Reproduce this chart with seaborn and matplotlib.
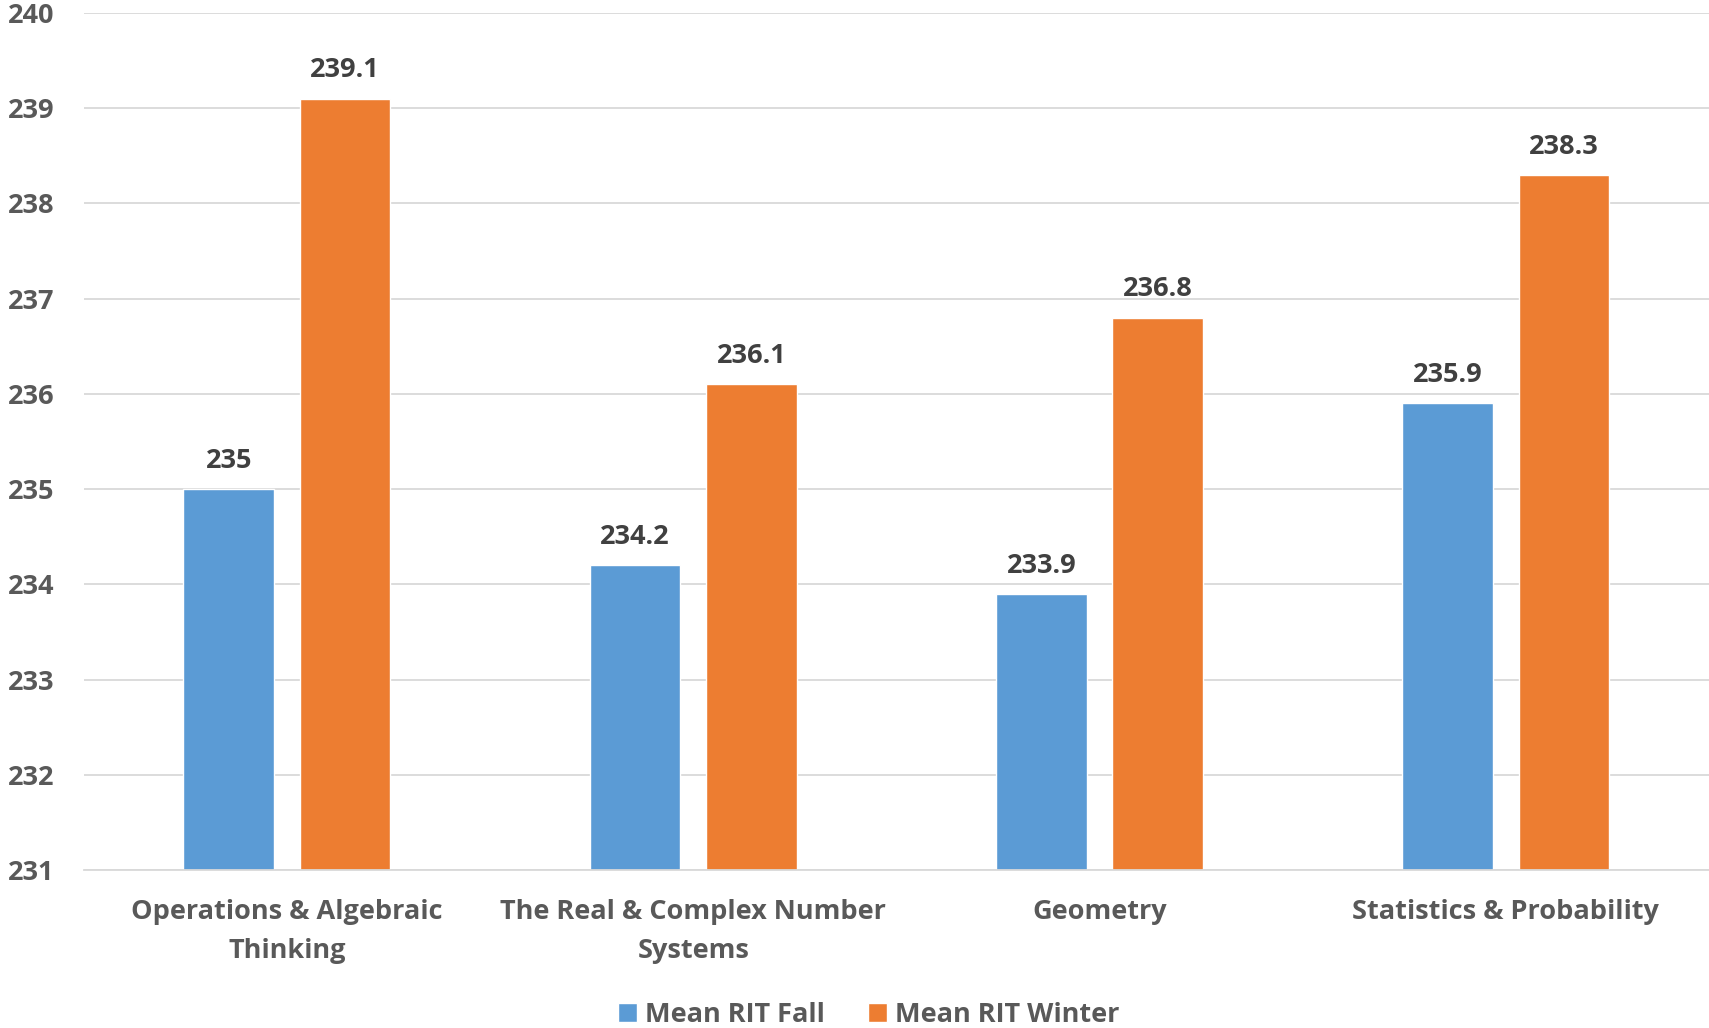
import pandas as pd
import matplotlib
matplotlib.use("Agg")
import matplotlib.pyplot as plt
import seaborn as sns

# DATA
categories = ["Operations & Algebraic\nThinking", "The Real & Complex Number\nSystems",
              "Geometry", "Statistics & Probability"]
fall = [235.0, 234.2, 233.9, 235.9]
winter = [239.1, 236.1, 236.8, 238.3]
fall_labels = ["235", "234.2", "233.9", "235.9"]
winter_labels = ["239.1", "236.1", "236.8", "238.3"]
series = ["Mean RIT Fall", "Mean RIT Winter"]

df = pd.DataFrame({
    "category": categories * 2,
    "value": fall + winter,
    "series": [series[0]] * 4 + [series[1]] * 4,
})

# STYLE
sns.set_style("white")
plt.rcParams["font.family"] = ["Open Sans", "DejaVu Sans"]
plt.rcParams["font.weight"] = "bold"
colors = ["#5B9BD5", "#ED7D31"]
fs = 19.5

fig = plt.figure(figsize=(17.09, 10.28), dpi=100)
ax = fig.add_axes([0.049, 0.1537, 0.951, 0.8336])

sns.barplot(data=df, x="category", y="value", hue="series", palette=colors,
            width=0.572, gap=0.22, ax=ax, legend=True, saturation=1)

ax.set_ylim(231, 240)
ax.set_yticks(range(231, 241))
ax.set_xlim(-0.5, 3.5)
ax.yaxis.grid(True, color="#D9D9D9", linewidth=1.3)
ax.set_axisbelow(True)
for s in ["top", "right", "left"]:
    ax.spines[s].set_visible(False)
ax.spines["bottom"].set_color("#D9D9D9")
ax.spines["bottom"].set_linewidth(1.3)
ax.set_xlabel("")
ax.set_ylabel("")
ax.tick_params(axis="y", length=0, pad=21, labelsize=fs, labelcolor="#595959")
ax.tick_params(axis="x", length=0, pad=21, labelsize=fs, labelcolor="#595959")
for t in ax.get_xticklabels():
    t.set_linespacing(1.62)
    t.set_fontweight("bold")
for t in ax.get_yticklabels():
    t.set_fontweight("bold")

for cont, labs in zip(ax.containers, [fall_labels, winter_labels]):
    ax.bar_label(cont, labels=labs, padding=11, fontsize=fs, color="#404040",
                 fontweight="bold")

ax.legend(loc="upper center", bbox_to_anchor=(0.483, -0.126), ncol=2,
          frameon=False, handlelength=0.7, handleheight=0.7,
          handletextpad=0.3, columnspacing=1.6, labelcolor="#595959",
          prop={"weight": "bold", "size": fs})

fig.savefig("out.png", dpi=100)
